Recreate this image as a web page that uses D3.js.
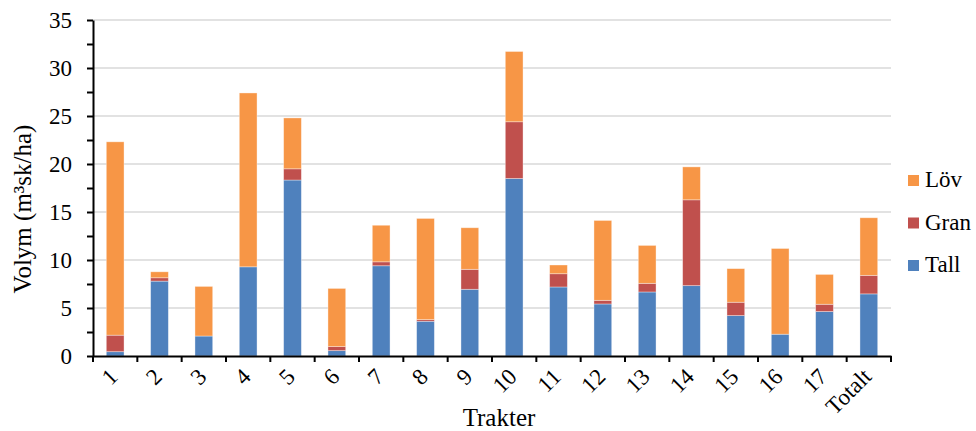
<!DOCTYPE html>
<html>
<head>
<meta charset="utf-8">
<script src="https://cdn.jsdelivr.net/npm/d3@7"></script>
<style>
  html, body { margin: 0; padding: 0; background: #fff; }
  svg { display: block; }
  svg text { font-family: "Liberation Serif", "DejaVu Serif", serif; fill: #000; }
  .axis path, .axis line { stroke: #000; stroke-width: 2; }
  .axis text { font-size: 23px; }
  .grid line { stroke: #d9d9d9; stroke-width: 1.5; }
  .axis-label { font-size: 25px; }
  .legend text { font-size: 23px; }
</style>
</head>
<body>
<div id="chart"></div>
<script>
const categories = ['1', '2', '3', '4', '5', '6', '7', '8', '9', '10', '11', '12', '13', '14', '15', '16', '17', 'Totalt']
const tall = [0.45, 7.8, 2.08, 9.29, 18.33, 0.56, 9.4, 3.62, 6.95, 18.49, 7.19, 5.42, 6.67, 7.33, 4.21, 2.27, 4.63, 6.47]
const gran = [1.72, 0.35, 0.0, 0.0, 1.17, 0.42, 0.41, 0.17, 2.08, 5.91, 1.38, 0.38, 0.9, 8.94, 1.39, 0.0, 0.76, 1.93]
const lov = [20.14, 0.62, 5.17, 18.11, 5.3, 6.06, 3.81, 10.54, 4.33, 7.32, 0.91, 8.32, 3.95, 3.43, 3.5, 8.93, 3.11, 6.0]
const yTicks = [0, 5, 10, 15, 20, 25, 30, 35]
const yMinorTicks = [2.5, 7.5, 12.5, 17.5, 22.5, 27.5, 32.5]

const seriesKeys = ['Tall', 'Gran', 'Löv']
const colors = { Tall: '#4f81bd', Gran: '#c0504d', 'Löv': '#f79646' }
const FONT = '"Liberation Serif", "DejaVu Serif", serif'

const width = 976
const height = 431
const margin = { top: 20, right: 85, bottom: 75, left: 93 }
const innerW = width - margin.left - margin.right
const innerH = height - margin.top - margin.bottom

const rows = categories.map((c, i) => ({ cat: c, Tall: tall[i], Gran: gran[i], 'Löv': lov[i] }))
const stacked = d3.stack().keys(seriesKeys)(rows)

const svg = d3.select('#chart').append('svg')
  .attr('width', width)
  .attr('height', height)
  .attr('font-family', FONT)
const g = svg.append('g').attr('transform', `translate(${margin.left},${margin.top})`)

const x = d3.scaleBand().domain(categories).range([0, innerW]).padding(0)
const y = d3.scaleLinear().domain([0, 35]).range([innerH, 0])
const barW = x.bandwidth() * 0.4

// gridlines
g.append('g')
  .attr('class', 'grid')
  .selectAll('line')
  .data(yTicks.filter((d) => d > 0))
  .join('line')
  .attr('x1', 0)
  .attr('x2', innerW)
  .attr('y1', (d) => y(d))
  .attr('y2', (d) => y(d))

// bars
g.append('g')
  .selectAll('g')
  .data(stacked)
  .join('g')
  .attr('fill', (s) => colors[s.key])
  .selectAll('rect')
  .data((s) => s.filter((d) => d[1] - d[0] > 0))
  .join('rect')
  .attr('x', (d) => x(d.data.cat) + (x.bandwidth() - barW) / 2)
  .attr('width', barW)
  .attr('y', (d) => y(d[1]))
  .attr('height', (d) => y(d[0]) - y(d[1]))
  .attr('stroke', '#fff')
  .attr('stroke-opacity', 0.45)
  .attr('stroke-width', 0.8)

// y axis (major + minor ticks)
g.append('g')
  .attr('class', 'axis')
  .call(d3.axisLeft(y).tickValues(yMinorTicks).tickSize(6).tickFormat(''))
  .call((a) => a.select('.domain').remove())
g.append('g')
  .attr('class', 'axis')
  .call(d3.axisLeft(y).tickValues(yTicks).tickSize(6).tickSizeOuter(0).tickPadding(15))
  .call((a) => a.attr('font-family', FONT).selectAll('text').attr('font-family', FONT))

// x axis
const xAxisG = g.append('g')
  .attr('class', 'axis')
  .attr('transform', `translate(0,${innerH})`)
  .call(d3.axisBottom(x).tickSize(0).tickSizeOuter(0).tickFormat(''))
  .attr('font-family', FONT)
xAxisG.selectAll('.tick').remove()
xAxisG.selectAll('line.sep')
  .data(d3.range(categories.length + 1))
  .join('line')
  .attr('class', 'sep')
  .attr('x1', (i) => i * x.step())
  .attr('x2', (i) => i * x.step())
  .attr('y1', 0)
  .attr('y2', 6)
xAxisG.selectAll('text.cat')
  .data(categories)
  .join('text')
  .attr('class', 'cat')
  .attr('font-family', FONT)
  .attr('text-anchor', 'end')
  .attr('transform', (d) => `translate(${x(d) + x.bandwidth() / 2 + 4},${22}) rotate(-45)`)
  .text((d) => d)

// axis titles
svg.append('text')
  .attr('class', 'axis-label')
  .attr('text-anchor', 'middle')
  .attr('transform', `translate(31,209) rotate(-90)`)
  .text('Volym (m³sk/ha)')
svg.append('text')
  .attr('class', 'axis-label')
  .attr('text-anchor', 'middle')
  .attr('x', 499)
  .attr('y', 426)
  .text('Trakter')

// legend
const legend = svg.append('g').attr('class', 'legend').attr('transform', 'translate(908,175)')
const legendItems = legend.selectAll('g')
  .data(['Löv', 'Gran', 'Tall'])
  .join('g')
  .attr('transform', (d, i) => `translate(0,${i * 42.5})`)
legendItems.append('rect').attr('width', 11).attr('height', 11).attr('fill', (d) => colors[d])
legendItems.append('text').attr('x', 17).attr('y', 12).text((d) => d)
</script>
</body>
</html>
